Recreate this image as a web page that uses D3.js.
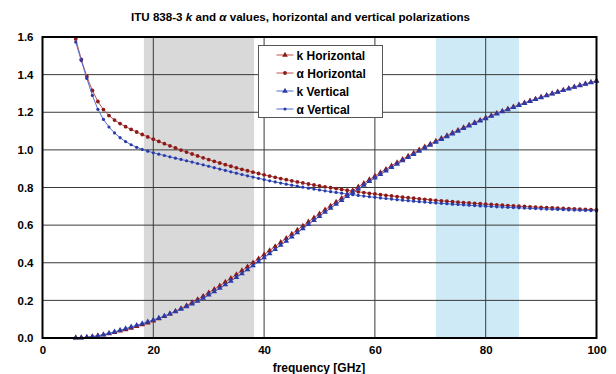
<!DOCTYPE html>
<html>
<head>
<meta charset="utf-8">
<script src="https://cdn.jsdelivr.net/npm/d3@7"></script>
<style>
  body { margin: 0; background: #fff; }
  text { font-family: "Liberation Sans", Arial, sans-serif; font-weight: bold; fill: #000; }
</style>
</head>
<body>
<div id="chart-area"></div>
<script>
// ITU-R P.838-3 coefficients, 6..100 GHz in 1 GHz steps
var freq = d3.range(6, 101);
var kH = [0.0007, 0.0019, 0.0041, 0.0075, 0.0122, 0.0177, 0.0239, 0.0304, 0.0374, 0.0448,
  0.0528, 0.0615, 0.0708, 0.0808, 0.0916, 0.1032, 0.1155, 0.1286, 0.1425, 0.1571,
  0.1724, 0.1884, 0.2051, 0.2224, 0.2403, 0.2588, 0.2778, 0.2972, 0.3171, 0.3374,
  0.3580, 0.3789, 0.4001, 0.4215, 0.4431, 0.4647, 0.4865, 0.5084, 0.5302, 0.5521,
  0.5738, 0.5956, 0.6172, 0.6386, 0.6600, 0.6811, 0.7020, 0.7228, 0.7433, 0.7635,
  0.7835, 0.8032, 0.8226, 0.8418, 0.8606, 0.8791, 0.8974, 0.9153, 0.9328, 0.9501,
  0.9670, 0.9836, 0.9999, 1.0159, 1.0315, 1.0468, 1.0618, 1.0764, 1.0908, 1.1048,
  1.1185, 1.1320, 1.1451, 1.1579, 1.1704, 1.1827, 1.1946, 1.2063, 1.2177, 1.2289,
  1.2398, 1.2504, 1.2607, 1.2708, 1.2807, 1.2903, 1.2997, 1.3089, 1.3179, 1.3266,
  1.3351, 1.3434, 1.3515, 1.3594, 1.3671];
var aH = [1.5900, 1.4810, 1.3905, 1.3155, 1.2571, 1.2140, 1.1825, 1.1586, 1.1396, 1.1233,
  1.1086, 1.0949, 1.0818, 1.0691, 1.0568, 1.0447, 1.0329, 1.0214, 1.0101, 0.9991,
  0.9884, 0.9780, 0.9679, 0.9580, 0.9485, 0.9392, 0.9302, 0.9214, 0.9129, 0.9047,
  0.8967, 0.8890, 0.8816, 0.8743, 0.8673, 0.8605, 0.8539, 0.8476, 0.8414, 0.8355,
  0.8297, 0.8241, 0.8187, 0.8134, 0.8084, 0.8034, 0.7987, 0.7941, 0.7896, 0.7853,
  0.7811, 0.7771, 0.7731, 0.7693, 0.7656, 0.7621, 0.7586, 0.7552, 0.7520, 0.7488,
  0.7458, 0.7428, 0.7400, 0.7372, 0.7345, 0.7318, 0.7293, 0.7268, 0.7244, 0.7221,
  0.7199, 0.7177, 0.7156, 0.7135, 0.7115, 0.7096, 0.7077, 0.7058, 0.7040, 0.7023,
  0.7006, 0.6990, 0.6974, 0.6959, 0.6944, 0.6929, 0.6915, 0.6901, 0.6888, 0.6875,
  0.6862, 0.6850, 0.6838, 0.6826, 0.6815];
var kV = [0.0005, 0.0014, 0.0035, 0.0067, 0.0113, 0.0173, 0.0246, 0.0327, 0.0413, 0.0501,
  0.0590, 0.0680, 0.0771, 0.0864, 0.0961, 0.1063, 0.1170, 0.1284, 0.1404, 0.1533,
  0.1669, 0.1813, 0.1964, 0.2124, 0.2291, 0.2465, 0.2646, 0.2833, 0.3026, 0.3224,
  0.3427, 0.3633, 0.3844, 0.4058, 0.4274, 0.4492, 0.4712, 0.4932, 0.5153, 0.5375,
  0.5596, 0.5817, 0.6037, 0.6255, 0.6472, 0.6687, 0.6901, 0.7112, 0.7321, 0.7527,
  0.7730, 0.7931, 0.8129, 0.8324, 0.8515, 0.8704, 0.8889, 0.9071, 0.9250, 0.9425,
  0.9598, 0.9767, 0.9932, 1.0094, 1.0253, 1.0409, 1.0561, 1.0711, 1.0857, 1.1000,
  1.1139, 1.1276, 1.1409, 1.1539, 1.1666, 1.1790, 1.1911, 1.2030, 1.2145, 1.2258,
  1.2368, 1.2476, 1.2581, 1.2683, 1.2783, 1.2880, 1.2975, 1.3068, 1.3158, 1.3246,
  1.3332, 1.3415, 1.3497, 1.3576, 1.3654];
var aV = [1.5728, 1.4745, 1.3797, 1.2895, 1.2156, 1.1617, 1.1216, 1.0901, 1.0646, 1.0440,
  1.0273, 1.0137, 1.0025, 0.9930, 0.9847, 0.9771, 0.9700, 0.9630, 0.9561, 0.9491,
  0.9421, 0.9349, 0.9277, 0.9203, 0.9129, 0.9055, 0.8981, 0.8907, 0.8834, 0.8761,
  0.8690, 0.8621, 0.8552, 0.8486, 0.8421, 0.8357, 0.8296, 0.8236, 0.8179, 0.8123,
  0.8069, 0.8016, 0.7966, 0.7917, 0.7870, 0.7824, 0.7780, 0.7737, 0.7696, 0.7656,
  0.7618, 0.7581, 0.7545, 0.7510, 0.7477, 0.7445, 0.7414, 0.7384, 0.7355, 0.7327,
  0.7300, 0.7274, 0.7249, 0.7225, 0.7201, 0.7179, 0.7157, 0.7136, 0.7115, 0.7096,
  0.7077, 0.7058, 0.7040, 0.7023, 0.7006, 0.6990, 0.6975, 0.6960, 0.6945, 0.6931,
  0.6917, 0.6904, 0.6891, 0.6878, 0.6866, 0.6854, 0.6843, 0.6832, 0.6821, 0.6810,
  0.6800, 0.6790, 0.6780, 0.6771, 0.6761];
var xTicks = [0, 20, 40, 60, 80, 100];
var yTicks = [0, 0.2, 0.4, 0.6, 0.8, 1.0, 1.2, 1.4, 1.6];
// shaded frequency bands [GHz]
var grayBand = [18.3, 38.2];
var blueBand = [71, 86];

var margin = { left:42.5, right:19.5, top:37, bottom:36 },
    width = 616 - margin.left - margin.right,
    height = 374 - margin.top - margin.bottom;

var svg = d3.select("#chart-area")
    .append("svg")
      .attr("width", 616)
      .attr("height", 374)
    .append("g")
      .attr("transform", "translate(" + margin.left + ", " + margin.top + ")");

var x = d3.scaleLinear().domain([0, 100]).range([0, width]);
var y = d3.scaleLinear().domain([0, 1.6]).range([height, 0]);

// Title
svg.append("text")
    .attr("x", 258)
    .attr("y", -16.5)
    .attr("font-size", "11.6px")
    .attr("text-anchor", "middle")
    .call(function(t) {
      t.append("tspan").text("ITU 838-3 ");
      t.append("tspan").attr("font-style", "italic").text("k");
      t.append("tspan").text(" and ");
      t.append("tspan").attr("font-style", "italic").text("α");
      t.append("tspan").text(" values, horizontal and vertical polarizations");
    });

// Bands
svg.append("rect")
    .attr("x", x(grayBand[0]))
    .attr("width", x(grayBand[1]) - x(grayBand[0]))
    .attr("y", 0).attr("height", height)
    .attr("fill", "#d9d9d9");
svg.append("rect")
    .attr("x", x(blueBand[0]))
    .attr("width", x(blueBand[1]) - x(blueBand[0]))
    .attr("y", 0).attr("height", height)
    .attr("fill", "#cdeaf6");

// Grid lines
svg.append("g").selectAll("line")
  .data(xTicks.slice(1, -1))
  .enter().append("line")
    .attr("x1", d => x(d)).attr("x2", d => x(d))
    .attr("y1", 0).attr("y2", height)
    .attr("stroke", "#3a3a3a").attr("stroke-width", 1);
svg.append("g").selectAll("line")
  .data(yTicks.slice(1, -1))
  .enter().append("line")
    .attr("y1", d => y(d)).attr("y2", d => y(d))
    .attr("x1", 0).attr("x2", width)
    .attr("stroke", "#3a3a3a").attr("stroke-width", 1);

// Axes
var xAxisCall = d3.axisBottom(x).tickValues(xTicks).tickSize(0).tickPadding(8);
var yAxisCall = d3.axisLeft(y).tickValues(yTicks).tickSize(0).tickPadding(9)
    .tickFormat(d3.format(".1f"));
var xAxis = svg.append("g")
    .attr("transform", "translate(0," + height + ")")
    .call(xAxisCall);
var yAxis = svg.append("g").call(yAxisCall);
svg.selectAll(".domain").remove();
svg.selectAll(".tick text")
    .attr("font-size", "11.5px")
    .attr("font-family", "'Liberation Sans', Arial, sans-serif")
    .attr("font-weight", "bold")
    .attr("fill", "#000");

svg.append("text")
    .attr("x", x(50) - 0.5)
    .attr("y", height + 34)
    .attr("font-size", "12px")
    .attr("text-anchor", "middle")
    .text("frequency [GHz]");

// Series
var series = [
  { name: "k Horizontal", values: kH, line: "#c0504d", mark: "#8b1a1a", shape: "tri" },
  { name: "α Horizontal", values: aH, line: "#c0504d", mark: "#8b1a1a", shape: "dot" },
  { name: "k Vertical", values: kV, line: "#4f6fd0", mark: "#2a3aa8", shape: "tri" },
  { name: "α Vertical", values: aV, line: "#4f6fd0", mark: "#2a3aa8", shape: "sdot" }
];

var clip = svg.append("clipPath").attr("id", "plot-clip")
  .append("rect").attr("x", -4).attr("y", -1).attr("width", width + 8).attr("height", height + 5);

var line = d3.line()
    .x(d => x(d[0]))
    .y(d => y(d[1]));

var triangle = d3.symbol().type(d3.symbolTriangle).size(14);

function drawMarker(g, s) {
  if (s.shape === "tri") {
    g.append("path").attr("d", triangle).attr("fill", s.mark);
  } else {
    g.append("circle").attr("r", s.shape === "dot" ? 1.9 : 1.6).attr("fill", s.mark);
  }
}

var plot = svg.append("g").attr("clip-path", "url(#plot-clip)");
series.forEach(function(s) {
  var pts = freq.map((f, i) => [f, s.values[i]]);
  var g = plot.append("g");
  g.append("path")
      .attr("d", line(pts))
      .attr("fill", "none")
      .attr("stroke", s.line)
      .attr("stroke-width", 1);
  g.selectAll(".m")
    .data(pts)
    .enter().append("g")
      .attr("class", "m")
      .attr("transform", d => "translate(" + x(d[0]) + "," + y(d[1]) + ")")
      .each(function() { drawMarker(d3.select(this), s); });
});

// Plot frame
svg.append("rect")
    .attr("x", 0).attr("y", 0)
    .attr("width", width).attr("height", height)
    .attr("fill", "none")
    .attr("stroke", "#000")
    .attr("stroke-width", 2);

// Legend
var legend = svg.append("g")
    .attr("transform", "translate(" + (258.5 - margin.left) + "," + (45.5 - margin.top) + ")");
legend.append("rect")
    .attr("width", 124).attr("height", 72)
    .attr("fill", "#fff")
    .attr("stroke", "#555")
    .attr("stroke-width", 1);
series.forEach(function(s, i) {
  var row = legend.append("g").attr("transform", "translate(0," + (9.5 + i * 18) + ")");
  row.append("line")
      .attr("x1", 18).attr("x2", 35)
      .attr("stroke", s.line).attr("stroke-width", 1);
  var m = row.append("g").attr("transform", "translate(26.5,0)");
  drawMarker(m, s);
  row.append("text")
      .attr("x", 38)
      .attr("y", 4.5)
      .attr("font-size", "12px")
      .text(s.name);
});
</script>
</body>
</html>
